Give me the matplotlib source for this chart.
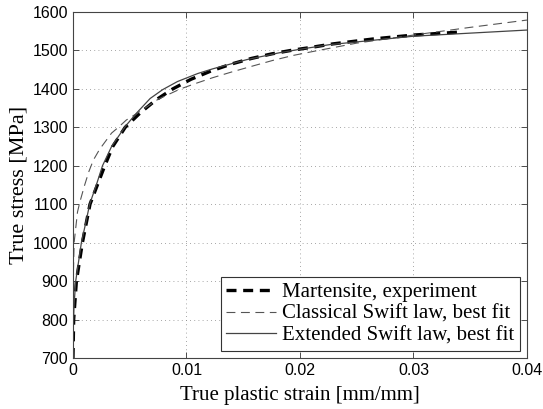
import matplotlib
matplotlib.use("Agg")
import matplotlib.pyplot as plt

# experiment (martensite)
exp_strain = [0, 0.00006, 0.0003, 0.00083, 0.0015, 0.0022, 0.0028, 0.0035, 0.0046,
              0.0059, 0.0073, 0.0088, 0.0104, 0.0122, 0.0140, 0.0157, 0.0175, 0.0192,
              0.0210, 0.0229, 0.0265, 0.0300, 0.0342]
exp_stress = [700, 800, 900, 1000, 1100, 1154, 1200, 1250, 1300,
              1337, 1371, 1400, 1425, 1447, 1465, 1479, 1491, 1500,
              1508, 1517, 1530, 1540, 1548]

# classical Swift law
cls_strain = [0, 0.00002, 0.0001, 0.0004, 0.0006, 0.00103, 0.0014, 0.0018, 0.00235,
              0.0034, 0.0040, 0.0047, 0.0060, 0.0075, 0.0094, 0.0106, 0.0123, 0.0141,
              0.0159, 0.0176, 0.0194, 0.0211, 0.0250, 0.0300, 0.0350, 0.0400]
cls_stress = [700, 900, 1000, 1080, 1105, 1150, 1185, 1215, 1243,
              1285, 1300, 1319, 1343, 1373, 1399, 1412, 1429, 1445,
              1460, 1474, 1487, 1497, 1519, 1540, 1560, 1579]

# extended Swift law
ext_strain = [0, 0.0001, 0.00024, 0.00074, 0.00118, 0.00147, 0.0021, 0.0026, 0.0034,
              0.0046, 0.0056, 0.0068, 0.0079, 0.0092, 0.0110, 0.0123, 0.0153, 0.0182,
              0.0200, 0.0226, 0.0300, 0.0400]
ext_stress = [760, 840, 900, 1000, 1059, 1100, 1154, 1200, 1250,
              1302, 1337, 1375, 1398, 1419, 1440, 1452, 1476, 1494,
              1503, 1515, 1537, 1553]

x_ticks = [0, 0.01, 0.02, 0.03, 0.04]
x_labels = ['0', '0.01', '0.02', '0.03', '0.04']
y_ticks = [700, 800, 900, 1000, 1100, 1200, 1300, 1400, 1500, 1600]

serif = ['Liberation Serif', 'DejaVu Serif']
sans = ['Liberation Sans', 'DejaVu Sans']

fig = plt.figure(figsize=(5.43, 4.09), dpi=100)
ax = fig.add_axes([0.1344, 0.1247, 0.8361, 0.846])

ax.plot(exp_strain, exp_stress, color='black', linestyle=(0, (3, 2)), linewidth=2.4,
        label='Martensite, experiment')
ax.plot(cls_strain, cls_stress, color='#555555', linestyle=(0, (8, 5)), linewidth=0.8,
        label='Classical Swift law, best fit')
ax.plot(ext_strain, ext_stress, color='#444444', linestyle='-', linewidth=0.9,
        label='Extended Swift law, best fit')

ax.set_xlim(0, 0.04)
ax.set_ylim(700, 1600)
ax.set_xticks(x_ticks)
ax.set_xticklabels(x_labels)
ax.set_yticks(y_ticks)
for lab in ax.get_xticklabels() + ax.get_yticklabels():
    lab.set_family(sans)
    lab.set_fontsize(11.5)

ax.tick_params(direction='in', length=4, width=0.6, top=True, right=True, colors='#333333',
               labelcolor='black')
ax.grid(True, linestyle=(0, (1, 4)), color='#888888', linewidth=0.6)
for s in ax.spines.values():
    s.set_color('#444444')
    s.set_linewidth(0.8)

ax.set_xlabel('True plastic strain [mm/mm]', family=serif, fontsize=15, labelpad=6)
ax.set_ylabel('True stress [MPa]', family=serif, fontsize=16, labelpad=3)

leg = ax.legend(loc='lower right', prop={'family': serif, 'size': 15}, fancybox=False,
                framealpha=1, edgecolor='#333333', borderaxespad=0.35, handlelength=2.4,
                labelspacing=0.1, borderpad=0.25, handletextpad=0.3)
leg.get_frame().set_linewidth(0.8)

plt.savefig('out.png', dpi=100)
